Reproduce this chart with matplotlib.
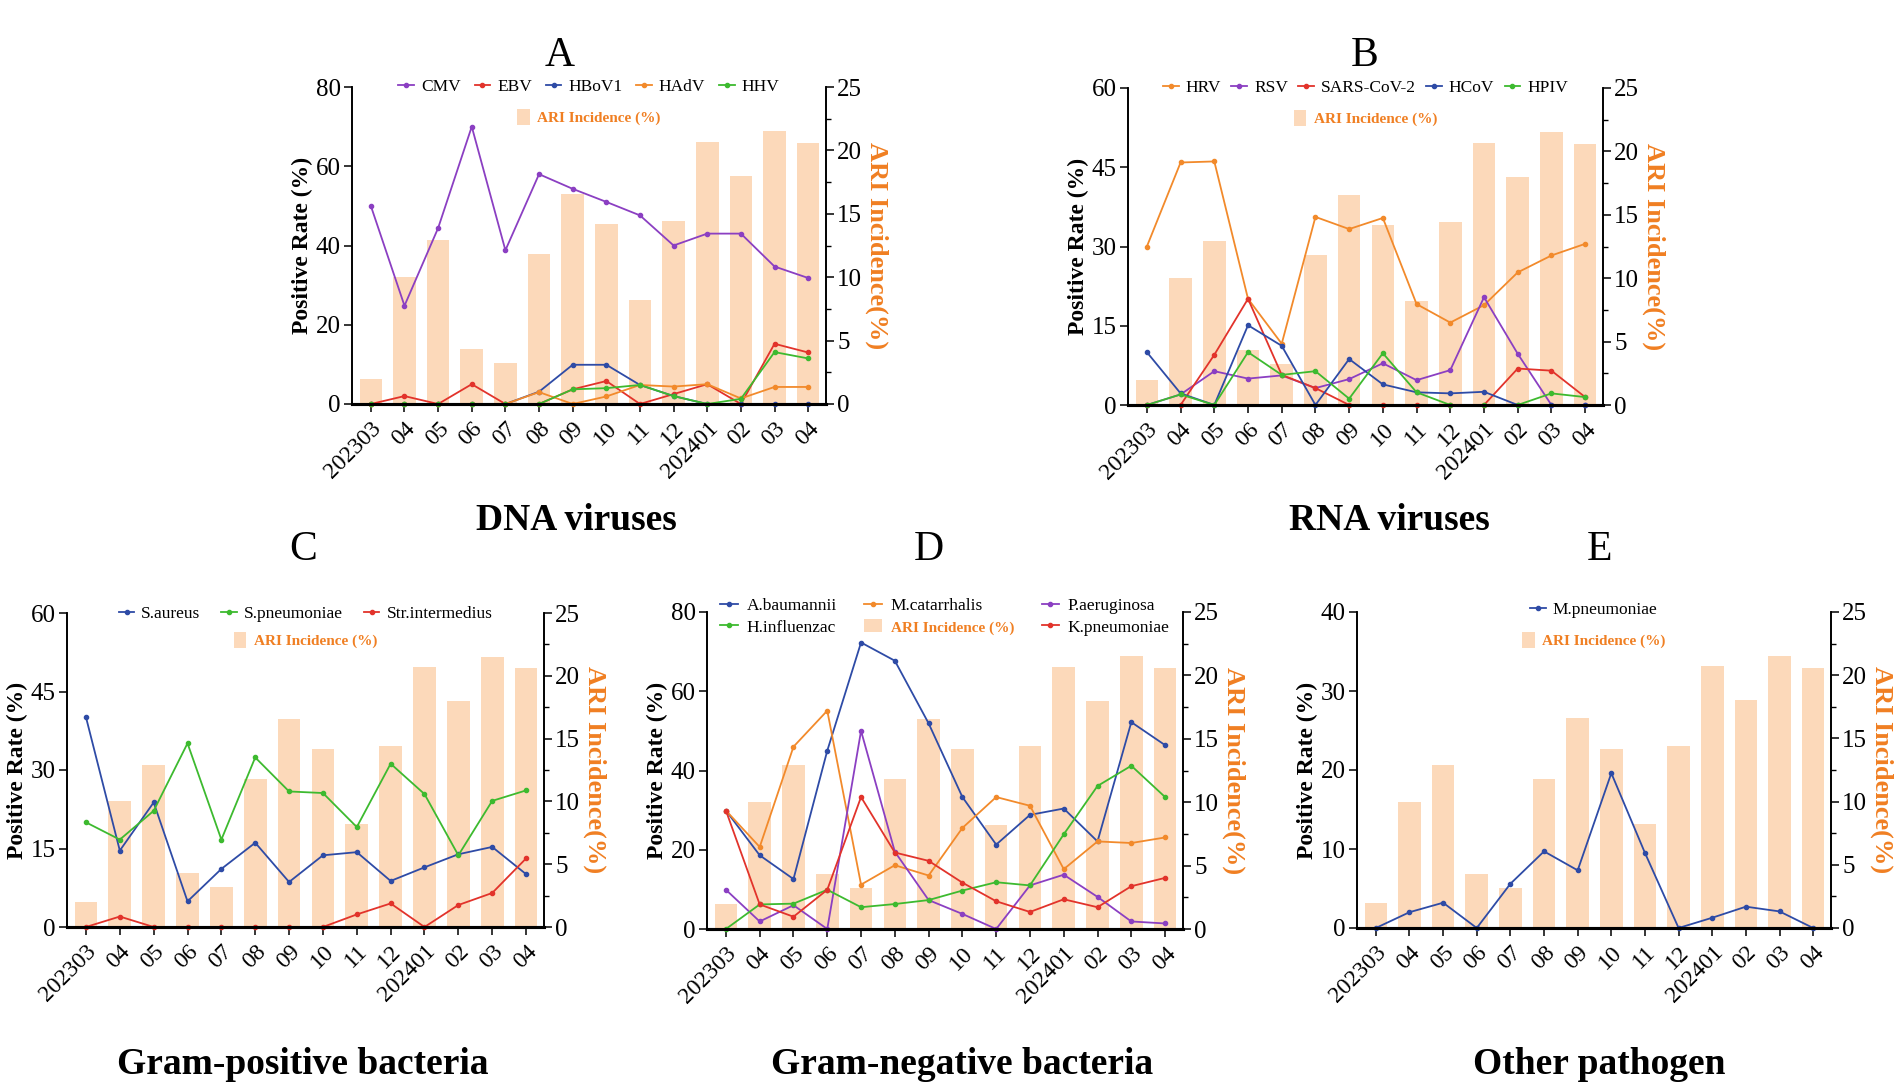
import numpy as np
import matplotlib
matplotlib.use('Agg')
import matplotlib.pyplot as plt
from matplotlib.ticker import MultipleLocator
from matplotlib.patches import Patch

plt.rcParams['font.family'] = ['Liberation Serif', 'DejaVu Serif']

# x axis months
months = ['202303', '04', '05', '06', '07', '08', '09', '10', '11', '12', '202401', '02', '03', '04']

# ARI incidence (%) - same bars in every panel
ari = [2.0, 10.0, 12.9, 4.3, 3.2, 11.8, 16.6, 14.2, 8.2, 14.4, 20.7, 18.0, 21.5, 20.6]

# A: DNA viruses, positive rate (%)
cmv = [50.0, 24.8, 44.4, 70.0, 38.8, 58.0, 54.3, 51.0, 47.6, 40.0, 43.0, 43.0, 34.7, 31.8]
ebv = [0, 2.0, 0, 5.0, 0, 0, 3.7, 5.8, 0, 2.5, 5.0, 0, 15.2, 13.0]
hbov1 = [0, 0, 0, 0, 0, 3.1, 9.9, 9.9, 4.8, 2.0, 0, 0, 0, 0]
hadv = [0, 0, 0, 0, 0, 3.0, 0, 1.9, 4.8, 4.4, 5.0, 1.4, 4.3, 4.3]
hhv = [0, 0, 0, 0, 0, 0, 3.7, 4.0, 4.8, 2.0, 0, 1.3, 13.1, 11.5]

# B: RNA viruses
hrv = [30.0, 45.9, 46.1, 20.1, 11.6, 35.6, 33.3, 35.4, 19.1, 15.6, 18.9, 25.1, 28.3, 30.5]
rsv = [0, 2.0, 6.4, 5.0, 5.6, 3.2, 4.9, 7.9, 4.7, 6.6, 20.4, 9.7, 0, 0]
sars = [0, 0, 9.5, 20.1, 5.7, 3.2, 0, 0, 0, 0, 0, 6.9, 6.5, 1.5]
hcov = [10.0, 2.2, 0, 15.1, 11.2, 0, 8.7, 3.9, 2.4, 2.2, 2.5, 0, 0, 0]
hpiv = [0, 2.0, 0, 10.0, 5.7, 6.4, 1.2, 9.8, 2.4, 0, 0, 0, 2.2, 1.5]

# C: Gram-positive bacteria
saureus = [40.1, 14.6, 23.8, 4.9, 11.1, 16.1, 8.6, 13.7, 14.3, 8.8, 11.4, 13.9, 15.3, 10.1]
spneumoniae = [20.0, 16.7, 22.2, 35.1, 16.7, 32.4, 25.9, 25.6, 19.1, 31.2, 25.4, 13.7, 24.1, 26.1]
strintermedius = [0, 2.0, 0, 0, 0, 0, 0, 0, 2.4, 4.5, 0, 4.2, 6.5, 13.1]

# D: Gram-negative bacteria
abaumannii = [29.9, 18.6, 12.6, 45.0, 72.3, 67.7, 51.9, 33.3, 21.3, 28.8, 30.4, 22.1, 52.2, 46.4]
mcatarrhalis = [29.9, 20.7, 46.0, 55.1, 11.2, 16.1, 13.5, 25.5, 33.3, 31.1, 15.1, 22.1, 21.7, 23.1]
paeruginosa = [9.9, 1.9, 6.0, 0, 50.0, 19.5, 7.3, 3.8, 0, 11.0, 13.7, 8.1, 1.9, 1.4]
hinfluenzae = [0, 6.2, 6.4, 9.9, 5.5, 6.3, 7.3, 9.7, 11.8, 11.0, 23.9, 36.1, 41.2, 33.3]
kpneumoniae = [29.9, 6.2, 3.1, 9.9, 33.3, 19.3, 17.2, 11.7, 7.0, 4.3, 7.5, 5.5, 10.8, 12.9]

# E: other pathogen
mpneumoniae = [0, 2.0, 3.2, 0, 5.6, 9.7, 7.3, 19.6, 9.5, 0, 1.3, 2.7, 2.1, 0]

PURPLE = '#8B3FC2'
RED = '#E2332B'
BLUE = '#2E4BA6'
ORANGE = '#F28A2B'
GREEN = '#3DBA2F'
BAR = '#FCD9BA'
LABEL_ORANGE = '#F07F22'

FIG_W, FIG_H = 1902, 1088


def px_rect(x0, y0, x1, y1):
    # pixel box (top-left origin) -> figure fraction rect
    return [x0 / FIG_W, 1 - y1 / FIG_H, (x1 - x0) / FIG_W, (y1 - y0) / FIG_H]


def style_ari_text(t):
    t.set_color(LABEL_ORANGE)
    t.set_fontweight('bold')
    t.set_fontsize(11)


def draw_panel(fig, rect, lines, ymax, ystep, legend_mode, leg_y, ari_y, colspace=0.7):
    ax2 = fig.add_axes(rect)          # bars, right axis
    ax = ax2.twinx()                  # lines, drawn on top
    ax.yaxis.tick_left()
    ax.yaxis.set_label_position('left')
    ax2.yaxis.tick_right()
    ax2.yaxis.set_label_position('right')

    x = np.arange(len(months))
    ax2.bar(x, ari, width=0.67, color=BAR, linewidth=0)
    ax2.set_ylim(0, 25)
    ax2.yaxis.set_major_locator(MultipleLocator(5))
    ax2.yaxis.set_minor_locator(MultipleLocator(2.5))
    ax2.set_ylabel('ARI Incidence(%)', color=LABEL_ORANGE, fontsize=19, fontweight='bold',
                   rotation=270, va='bottom', labelpad=2)

    handles = []
    for name, vals, col in lines:
        h, = ax.plot(x, vals, color=col, lw=1.3, marker='o', ms=3.0, clip_on=False, label=name)
        handles.append(h)
    ax.set_ylim(0, ymax)
    ax.yaxis.set_major_locator(MultipleLocator(ystep))
    ax.set_ylabel('Positive Rate (%)', fontsize=17, fontweight='bold', labelpad=2)
    ax.set_xlim(-0.56, len(months) - 1 + 0.53)

    ax2.set_xticks(x)
    ax2.set_xticklabels(months, rotation=45, ha='right', rotation_mode='anchor', fontsize=17)

    for a in (ax, ax2):
        a.spines['top'].set_visible(False)
        a.spines['left'].set_linewidth(1.2)
        a.spines['right'].set_linewidth(1.2)
        a.spines['bottom'].set_linewidth(2.2)
        a.tick_params(axis='both', which='major', direction='out', length=6, width=1.1,
                      labelsize=18, pad=2)
        a.tick_params(axis='both', which='minor', direction='out', length=3.5, width=1.0)
    ax2.tick_params(axis='x', labelsize=17, pad=4)
    ax.tick_params(axis='x', which='both', bottom=False, labelbottom=False)

    ari_patch = Patch(facecolor=BAR, edgecolor='none', label='ARI Incidence (%)')
    if legend_mode == 'grid':
        # 3 x 2 layout with the bar entry in the middle of the second row
        order = [handles[0], handles[3], handles[1], ari_patch, handles[2], handles[4]]
        leg = ax.legend(handles=order, loc='center', bbox_to_anchor=(0.5, leg_y), ncol=3,
                        frameon=False, fontsize=12.5, handlelength=1.0, handletextpad=0.5,
                        columnspacing=colspace, labelspacing=0.3)
        for t in leg.get_texts():
            if t.get_text().startswith('ARI'):
                style_ari_text(t)
    else:
        leg = ax.legend(handles=handles, loc='center', bbox_to_anchor=(0.5, leg_y),
                        ncol=len(handles), frameon=False, fontsize=12.5, handlelength=0.9,
                        handletextpad=0.4, columnspacing=colspace)
        ax.add_artist(leg)
        leg2 = ax.legend(handles=[ari_patch], loc='center', bbox_to_anchor=(0.5, ari_y),
                         frameon=False, fontsize=11, handlelength=0.8, handleheight=1.2,
                         handletextpad=0.5)
        for t in leg2.get_texts():
            style_ari_text(t)
    return ax, ax2


fig = plt.figure(figsize=(FIG_W / 100, FIG_H / 100), dpi=100)

draw_panel(fig, px_rect(352, 87, 826, 404),
           [('CMV', cmv, PURPLE), ('EBV', ebv, RED), ('HBoV1', hbov1, BLUE),
            ('HAdV', hadv, ORANGE), ('HHV', hhv, GREEN)],
           80, 20, 'rows', 1.0, 0.905, 0.8)
draw_panel(fig, px_rect(1128, 88, 1603, 405),
           [('HRV', hrv, ORANGE), ('RSV', rsv, PURPLE), ('SARS-CoV-2', sars, RED),
            ('HCoV', hcov, BLUE), ('HPIV', hpiv, GREEN)],
           60, 15, 'rows', 1.0, 0.905, 0.6)
draw_panel(fig, px_rect(67, 613, 544, 927),
           [('S.aureus', saureus, BLUE), ('S.pneumoniae', spneumoniae, GREEN),
            ('Str.intermedius', strintermedius, RED)],
           60, 15, 'rows', 0.997, 0.914, 1.2)
draw_panel(fig, px_rect(707, 612, 1183, 929),
           [('A.baumannii', abaumannii, BLUE), ('M.catarrhalis', mcatarrhalis, ORANGE),
            ('P.aeruginosa', paeruginosa, PURPLE), ('H.influenzac', hinfluenzae, GREEN),
            ('K.pneumoniae', kpneumoniae, RED)],
           80, 20, 'grid', 0.985, None, 1.6)
draw_panel(fig, px_rect(1357, 612, 1831, 928),
           [('M.pneumoniae', mpneumoniae, BLUE)],
           40, 10, 'rows', 1.006, 0.911)

# panel letters and group titles
letters = [('A', 560, 56), ('B', 1365, 56), ('C', 303, 550), ('D', 929, 550), ('E', 1599, 550)]
for s, px, py in letters:
    fig.text(px / FIG_W, 1 - py / FIG_H, s, fontsize=30, ha='center', va='center')

titles = [('DNA viruses', 576, 521), ('RNA viruses', 1389, 521),
          ('Gram-positive bacteria', 303, 1065), ('Gram-negative bacteria', 962, 1065),
          ('Other pathogen', 1599, 1065)]
for s, px, py in titles:
    fig.text(px / FIG_W, 1 - py / FIG_H, s, fontsize=27, fontweight='bold', ha='center', va='center')

fig.savefig('out.png', dpi=100)
